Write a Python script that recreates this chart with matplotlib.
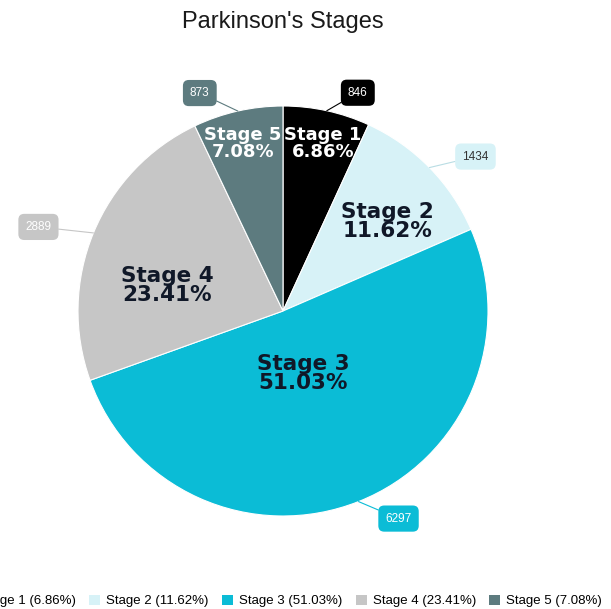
import numpy as np
import matplotlib.pyplot as plt
from matplotlib.patches import Patch

# Data
stages = ["Stage 1", "Stage 2", "Stage 3", "Stage 4", "Stage 5"]
counts = [846, 1434, 6297, 2889, 873]
colors = ["#000000", "#d7f2f7", "#0bbcd6", "#c6c6c6", "#5d7b7f"]
text_colors = ["white", "#101828", "#101828", "#101828", "white"]
value_text_colors = ["white", "#333333", "white", "white", "white"]

# label placement: (fraction of radius, angle tweak in degrees) and font sizes
label_pos = [(0.84, -1.0), (0.67, -3.8), (0.32, -4.0), (0.58, 10.0), (0.84, 0.7)]
label_fs = [13, 15.5, 15.5, 15.5, 13]
# callout box offsets in pixels from the slice edge
box_offsets = [(31, 18), (46, 11), (40, -17), (-55, 6), (-38, 18)]

W, H = 611, 609
fig = plt.figure(figsize=(W / 100, H / 100), dpi=100)
cx, cy, R = 283, 311, 205
ax = fig.add_axes([(cx - R) / W, (H - cy - R) / H, 2 * R / W, 2 * R / H])

total = sum(counts)
pcts = [c / total * 100 for c in counts]

wedges, _ = ax.pie(counts, colors=colors, startangle=90, counterclock=False,
                   wedgeprops=dict(edgecolor="white", linewidth=0.8))
ax.set_xlim(-1, 1)
ax.set_ylim(-1, 1)

for i, w in enumerate(wedges):
    mid = (w.theta1 + w.theta2) / 2
    r, tweak = label_pos[i]
    a = np.deg2rad(mid + tweak)
    ax.text(r * np.cos(a), r * np.sin(a), f"{stages[i]}\n{pcts[i]:.2f}%",
            ha="center", va="center", fontsize=label_fs[i], fontweight="heavy",
            color=text_colors[i], linespacing=0.9, family="DejaVu Sans")
    ang = np.deg2rad(mid)
    x, y = np.cos(ang), np.sin(ang)
    ax.annotate(str(counts[i]), xy=(x, y), xytext=box_offsets[i],
                textcoords="offset pixels", ha="center", va="center",
                fontsize=8.5, color=value_text_colors[i], family="Liberation Sans",
                bbox=dict(boxstyle="round,pad=0.6,rounding_size=0.5", fc=colors[i], ec="none"),
                arrowprops=dict(arrowstyle="-", color=colors[i] if i != 1 else "#b9dde4",
                                lw=0.8, shrinkA=0, shrinkB=0))

fig.text(283 / W, 1 - 22 / H, "Parkinson's Stages", ha="center", va="center",
         fontsize=17, family="Liberation Sans", color="#1a1a1a")

handles = [Patch(facecolor=c, edgecolor="none") for c in colors]
labels = [f"{s} ({p:.2f}%)" for s, p in zip(stages, pcts)]
fig.legend(handles, labels, loc="center", bbox_to_anchor=(282.5 / W, 8 / H),
           ncol=5, frameon=False, handlelength=0.85, handleheight=0.85,
           handletextpad=0.45, columnspacing=1.0,
           prop={"family": "Liberation Sans", "size": 9.5})

fig.savefig("out.png", dpi=100)
